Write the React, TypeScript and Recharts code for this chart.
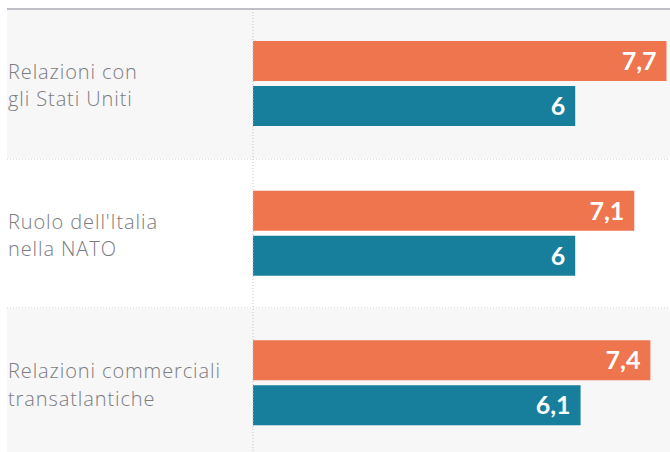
import {
  BarChart,
  Bar,
  XAxis,
  YAxis,
  CartesianGrid,
  ReferenceLine,
  ReferenceArea,
  LabelList,
} from 'recharts'

const categories = [
  'Relazioni con\ngli Stati Uniti',
  "Ruolo dell'Italia\nnella NATO",
  'Relazioni commerciali\ntransatlantiche',
]
const orangeValues = [7.7, 7.1, 7.4]
const tealValues = [6, 6, 6.1]

const ORANGE = '#EE754E'
const TEAL = '#177E9C'
const LABEL_FONT = '"Open Sans", Lato, "DejaVu Sans", sans-serif'
const VALUE_FONT = 'Lato, "Open Sans", "DejaVu Sans", sans-serif'

const data = categories.map((name, i) => ({
  name,
  orange: orangeValues[i],
  teal: tealValues[i],
}))

// value axis: 0 sits where the bars start, the negative side holds the labels
const X_DOMAIN: [number, number] = [-4.58, 7.765]

const formatValue = (v: any) => String(v).replace('.', ',')

function CategoryTick(props: any) {
  const { y, payload } = props
  const lines = String(payload.value).split('\n')
  return (
    <g>
      {lines.map((line, i) => (
        <text
          key={i}
          x={8}
          y={y - 5 + i * 27.5}
          fill="#7b7b82"
          fontSize={20}
          fontWeight={300}
          letterSpacing={0.9}
          fontFamily={LABEL_FONT}
        >
          {line}
        </text>
      ))}
    </g>
  )
}

// dotted separators on the band boundaries
const bandLines = ({ offset }: any) => {
  const step = offset.height / categories.length
  return categories.map((_, i) => Math.round(offset.top + i * step))
}

export default function App() {
  return (
    <div style={{ width: 670, height: 452, overflow: 'hidden', background: '#fff' }}>
      <style>{'body{margin:0}'}</style>
      <BarChart
        width={670}
        height={458}
        data={data}
        layout="vertical"
        margin={{ top: 8, right: 0, left: 6, bottom: 0 }}
        barSize={40}
        barGap={5}
      >
        <CartesianGrid
          vertical={false}
          horizontalCoordinatesGenerator={bandLines}
          stroke="#c4c4c8"
          strokeDasharray="1 2"
        />
        {categories.map((c, i) =>
          i % 2 === 0 ? (
            <ReferenceArea key={c} y1={c} y2={c} fill="#f7f7f7" fillOpacity={1} />
          ) : null
        )}
        <XAxis
          type="number"
          orientation="top"
          domain={X_DOMAIN}
          allowDataOverflow
          height={1}
          tick={false}
          tickLine={false}
          axisLine={{ stroke: '#adadb7', strokeWidth: 1.5 }}
        />
        <YAxis
          type="category"
          dataKey="name"
          width={1}
          axisLine={false}
          tickLine={false}
          tick={<CategoryTick />}
          interval={0}
        />
        <ReferenceLine x={0} stroke="#c4c4c8" strokeDasharray="1 2" />
        <Bar dataKey="orange" fill={ORANGE} isAnimationActive={false}>
          <LabelList
            dataKey="orange"
            position="insideRight"
            offset={10}
            formatter={formatValue}
            fill="#fff"
            fontSize={25}
            fontWeight={700}
            fontFamily={VALUE_FONT}
          />
        </Bar>
        <Bar dataKey="teal" fill={TEAL} isAnimationActive={false}>
          <LabelList
            dataKey="teal"
            position="insideRight"
            offset={10}
            formatter={formatValue}
            fill="#fff"
            fontSize={25}
            fontWeight={700}
            fontFamily={VALUE_FONT}
          />
        </Bar>
      </BarChart>
    </div>
  )
}
